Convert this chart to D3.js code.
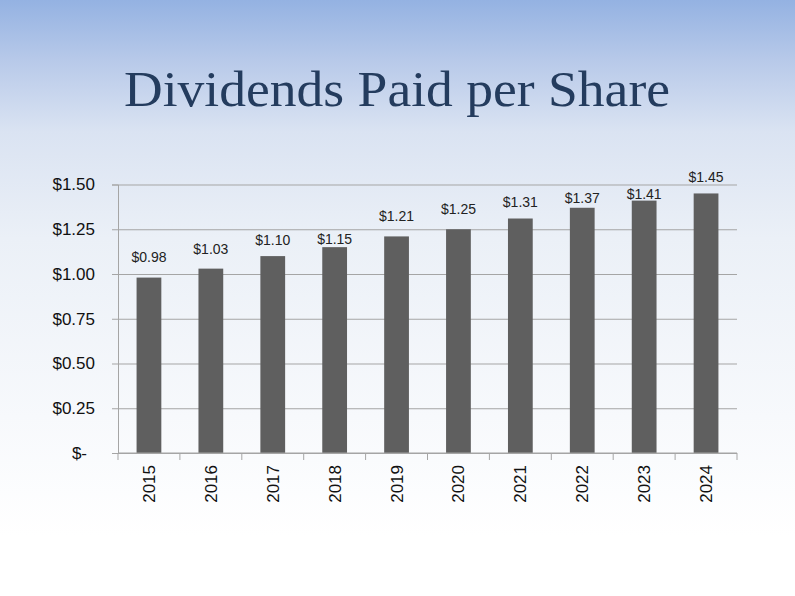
<!DOCTYPE html>
<html>
<head>
<meta charset="utf-8">
<script src="https://cdn.jsdelivr.net/npm/d3@7"></script>
<style>
  body { margin: 0; padding: 0; }
  svg { display: block; }
</style>
</head>
<body>
<div id="chart"></div>
<script>
// Data
var years = ["2015", "2016", "2017", "2018", "2019", "2020", "2021", "2022", "2023", "2024"];
var dividends = [0.98, 1.03, 1.10, 1.15, 1.21, 1.25, 1.31, 1.37, 1.41, 1.45];
var yTicks = [0, 0.25, 0.5, 0.75, 1.0, 1.25, 1.5];

// label lift above each bar (labels were hand placed on the slide)
var labelLift = [20, 20, 16, 8, 20, 20, 16, 10, 7, 16];

var W = 795, H = 596;
var margin = {top: 184.5, right: 58, bottom: 143, left: 118},
    width = W - margin.left - margin.right,
    height = H - margin.top - margin.bottom;

var svg = d3.select("#chart").append("svg")
    .attr("width", W)
    .attr("height", H);

// background gradient
var grad = svg.append("defs").append("linearGradient")
    .attr("id", "bg")
    .attr("x1", 0).attr("y1", 0).attr("x2", 0).attr("y2", 1);
[["0", "#94b2e2"], ["0.1", "#b7c9e9"], ["0.22", "#dae3f2"], ["0.4", "#ebf0f7"], ["0.7", "#f7f9fc"], ["0.9", "#ffffff"]]
    .forEach(function(s) {
        grad.append("stop").attr("offset", s[0]).attr("stop-color", s[1]);
    });
svg.append("rect").attr("width", W).attr("height", H).attr("fill", "url(#bg)");

// title
svg.append("text")
    .attr("x", 397)
    .attr("y", 106)
    .attr("text-anchor", "middle")
    .attr("font-family", "'Liberation Serif', 'DejaVu Serif', serif")
    .attr("font-size", 50)
    .attr("fill", "#243c5e")
    .attr("textLength", 546)
    .attr("lengthAdjust", "spacingAndGlyphs")
    .text("Dividends Paid per Share");

var g = svg.append("g")
    .attr("transform", "translate(" + margin.left + "," + margin.top + ")");

var x = d3.scaleBand().domain(years).range([0, width]).paddingInner(0.6).paddingOuter(0.3);
var xEdges = d3.scaleLinear().domain([0, years.length]).range([0, width]);
var y = d3.scaleLinear().domain([0, 1.5]).range([height, 0]);

// gridlines + y ticks
g.append("g")
    .attr("class", "grid")
    .call(d3.axisLeft(y).tickValues(yTicks).tickSize(-width).tickFormat(""))
    .call(function(s) {
        s.select(".domain").remove();
        s.selectAll("line").attr("stroke", "#a5a5a5");
    });

var yAxis = g.append("g")
    .call(d3.axisLeft(y).tickValues(yTicks).tickSize(6).tickPadding(17)
        .tickFormat(function(d) { return d === 0 ? "$-" : "$" + d3.format(".2f")(d); }));
yAxis.select(".domain").attr("stroke", "#a5a5a5");
yAxis.selectAll("line").attr("stroke", "#a5a5a5");
yAxis.selectAll("text")
    .attr("font-family", "'Liberation Sans', Arial, sans-serif")
    .attr("font-size", 17)
    .attr("fill", "#111")
    .attr("dx", function(d) { return d === 0 ? -8 : 0; });

// bars
g.selectAll("rect.bar")
    .data(dividends)
    .enter().append("rect")
    .attr("class", "bar")
    .attr("x", function(d, i) { return x(years[i]); })
    .attr("width", x.bandwidth())
    .attr("y", function(d) { return y(d); })
    .attr("height", function(d) { return height - y(d); })
    .attr("fill", "#5f5f5f");

// data labels
g.selectAll("text.val")
    .data(dividends)
    .enter().append("text")
    .attr("class", "val")
    .attr("x", function(d, i) { return x(years[i]) + x.bandwidth() / 2; })
    .attr("y", function(d, i) { return y(d) - labelLift[i]; })
    .attr("dy", "0.35em")
    .attr("text-anchor", "middle")
    .attr("font-family", "'Liberation Sans', Arial, sans-serif")
    .attr("font-size", 14)
    .attr("fill", "#222")
    .text(function(d) { return "$" + d3.format(".2f")(d); });

// x axis: line with tick marks between categories
var xAxis = g.append("g").attr("transform", "translate(0," + height + ")");
xAxis.append("line")
    .attr("x1", 0).attr("x2", width)
    .attr("stroke", "#a5a5a5");
xAxis.selectAll("line.tk")
    .data(d3.range(years.length + 1))
    .enter().append("line")
    .attr("class", "tk")
    .attr("x1", function(d) { return xEdges(d); })
    .attr("x2", function(d) { return xEdges(d); })
    .attr("y1", 0).attr("y2", 7)
    .attr("stroke", "#a5a5a5");
xAxis.selectAll("text")
    .data(years)
    .enter().append("text")
    .attr("transform", function(d) {
        return "translate(" + (x(d) + x.bandwidth() / 2) + ",12) rotate(-90)";
    })
    .attr("text-anchor", "end")
    .attr("dy", "0.35em")
    .attr("font-family", "'Liberation Sans', Arial, sans-serif")
    .attr("font-size", 17)
    .attr("fill", "#111")
    .text(function(d) { return d; });
</script>
</body>
</html>
